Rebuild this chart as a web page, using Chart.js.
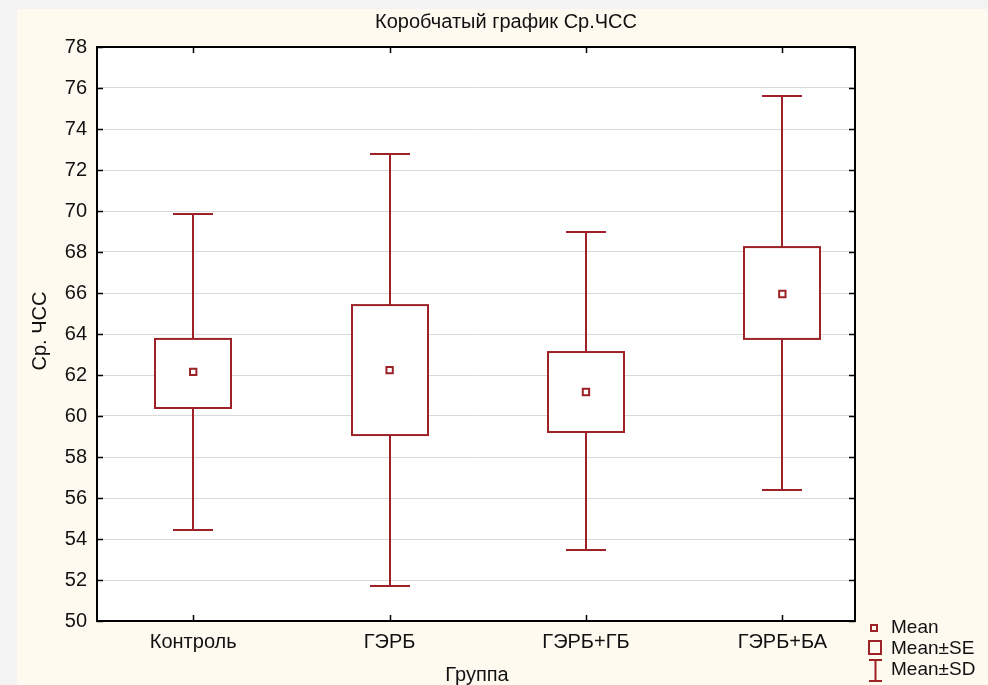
<!DOCTYPE html>
<html>
<head>
<meta charset="utf-8">
<script src="https://cdn.jsdelivr.net/npm/chart.js@4.4.1/dist/chart.umd.min.js"></script>
<style>
html,body{margin:0;padding:0;background:#f3f3f3;}
#wrap{width:988px;height:685px;position:relative;}
</style>
</head>
<body>
<div id="wrap"><canvas id="c" width="988" height="685"></canvas></div>
<script>
const categories = ['Контроль', 'ГЭРБ', 'ГЭРБ+ГБ', 'ГЭРБ+БА'];
const means  = [62.15, 62.24, 61.17, 65.95];
const seLow  = [60.39, 59.07, 59.22, 63.76];
const seHigh = [63.76, 65.41, 63.12, 68.24];
const sdLow  = [54.44, 51.71, 53.46, 56.39];
const sdHigh = [69.85, 72.78, 68.98, 75.61];
const yTicks = [50,52,54,56,58,60,62,64,66,68,70,72,74,76,78];
const titleText = 'Коробчатый график Ср.ЧСС';
const xTitle = 'Группа';
const yTitle = 'Ср. ЧСС';
const legendLabels = ['Mean', 'Mean±SE', 'Mean±SD'];

const RED = '#9c2228';
const FONT = '"Liberation Sans", Arial, sans-serif';

const boxPlugin = {
  id: 'boxPlugin',
  beforeDraw(chart) {
    const ctx = chart.ctx, a = chart.chartArea;
    ctx.save();
    ctx.fillStyle = '#f3f3f3';
    ctx.fillRect(0, 0, chart.width, chart.height);
    ctx.fillStyle = '#fefaf0';
    ctx.fillRect(17, 9, chart.width - 17, chart.height - 9);
    ctx.fillStyle = '#ffffff';
    ctx.fillRect(a.left, a.top, a.right - a.left, a.bottom - a.top);
    ctx.restore();
  },
  beforeDatasetsDraw(chart) {
    const ctx = chart.ctx, xs = chart.scales.x, ys = chart.scales.y;
    ctx.save();
    ctx.strokeStyle = RED;
    ctx.lineWidth = 2;
    const boxHalf = 38, capHalf = 20;
    categories.forEach((c, i) => {
      const cx = Math.round(xs.getPixelForValue(i + 1));
      const yl = ys.getPixelForValue(sdLow[i]);
      const yh = ys.getPixelForValue(sdHigh[i]);
      ctx.beginPath();
      ctx.moveTo(cx, yl); ctx.lineTo(cx, yh);
      ctx.moveTo(cx - capHalf, yl); ctx.lineTo(cx + capHalf, yl);
      ctx.moveTo(cx - capHalf, yh); ctx.lineTo(cx + capHalf, yh);
      ctx.stroke();
      const bt = ys.getPixelForValue(seHigh[i]);
      const bb = ys.getPixelForValue(seLow[i]);
      ctx.fillStyle = '#ffffff';
      ctx.fillRect(cx - boxHalf, bt, boxHalf * 2, bb - bt);
      ctx.strokeRect(cx - boxHalf, bt, boxHalf * 2, bb - bt);
    });
    ctx.restore();
  },
  afterDraw(chart) {
    const ctx = chart.ctx, a = chart.chartArea, xs = chart.scales.x, ys = chart.scales.y;
    ctx.save();
    // frame
    ctx.strokeStyle = '#000';
    ctx.lineWidth = 2;
    ctx.strokeRect(a.left, a.top, a.right - a.left, a.bottom - a.top);
    // inward ticks
    ctx.lineWidth = 1.5;
    ctx.beginPath();
    yTicks.forEach(v => {
      const y = Math.round(ys.getPixelForValue(v)) + 0.5;
      ctx.moveTo(a.left, y); ctx.lineTo(a.left + 6, y);
      ctx.moveTo(a.right, y); ctx.lineTo(a.right - 6, y);
    });
    categories.forEach((c, i) => {
      const x = Math.round(xs.getPixelForValue(i + 1)) + 0.5;
      ctx.moveTo(x, a.bottom); ctx.lineTo(x, a.bottom - 6);
      ctx.moveTo(x, a.top); ctx.lineTo(x, a.top + 6);
    });
    ctx.stroke();
    // texts
    ctx.fillStyle = '#111';
    ctx.textAlign = 'center';
    ctx.textBaseline = 'middle';
    ctx.font = '20px ' + FONT;
    ctx.fillText(titleText, 506, 22);
    ctx.fillText(xTitle, 477, 675);
    ctx.save();
    ctx.translate(40, 331);
    ctx.rotate(-Math.PI / 2);
    ctx.fillText(yTitle, 0, 0);
    ctx.restore();
    // legend
    ctx.strokeStyle = RED;
    ctx.lineWidth = 2;
    ctx.strokeRect(871, 625, 6, 6);
    ctx.strokeRect(869, 641, 12, 13);
    ctx.beginPath();
    ctx.moveTo(869, 660); ctx.lineTo(882, 660);
    ctx.moveTo(875.5, 660); ctx.lineTo(875.5, 681);
    ctx.moveTo(869, 681); ctx.lineTo(882, 681);
    ctx.stroke();
    ctx.fillStyle = '#111';
    ctx.textAlign = 'left';
    ctx.font = '19px ' + FONT;
    ctx.fillText(legendLabels[0], 891, 628);
    ctx.fillText(legendLabels[1], 891, 649);
    ctx.fillText(legendLabels[2], 891, 670);
    ctx.restore();
  }
};

new Chart(document.getElementById('c'), {
  type: 'scatter',
  data: {
    datasets: [{
      label: 'Mean',
      data: means.map((m, i) => ({ x: i + 1, y: m })),
      pointStyle: 'rect',
      pointRadius: 4.5,
      borderColor: RED,
      backgroundColor: '#ffffff',
      borderWidth: 2
    }]
  },
  options: {
    responsive: false,
    animation: false,
    events: [],
    layout: { padding: { left: 0, right: 133, top: 47, bottom: 0 } },
    plugins: { legend: { display: false }, tooltip: { enabled: false }, title: { display: false } },
    scales: {
      x: {
        type: 'linear', min: 0.51, max: 4.37,
        afterBuildTicks: s => { s.ticks = categories.map((c, i) => ({ value: i + 1 })); },
        afterFit: s => { s.height = 64; },
        ticks: {
          callback: v => categories[v - 1] || '',
          font: { family: FONT, size: 20 }, color: '#111', padding: 9, maxRotation: 0
        },
        grid: { display: false, drawTicks: false },
        border: { display: true, color: '#000', width: 2 }
      },
      y: {
        min: 50, max: 78,
        afterBuildTicks: s => { s.ticks = yTicks.map(v => ({ value: v })); },
        afterFit: s => { s.width = 97; },
        ticks: { font: { family: FONT, size: 20 }, color: '#111', padding: 10 },
        grid: { color: '#d9d9d9', lineWidth: 1, drawTicks: false },
        border: { display: true, color: '#000', width: 2 }
      }
    }
  },
  plugins: [boxPlugin]
});
</script>
</body>
</html>
